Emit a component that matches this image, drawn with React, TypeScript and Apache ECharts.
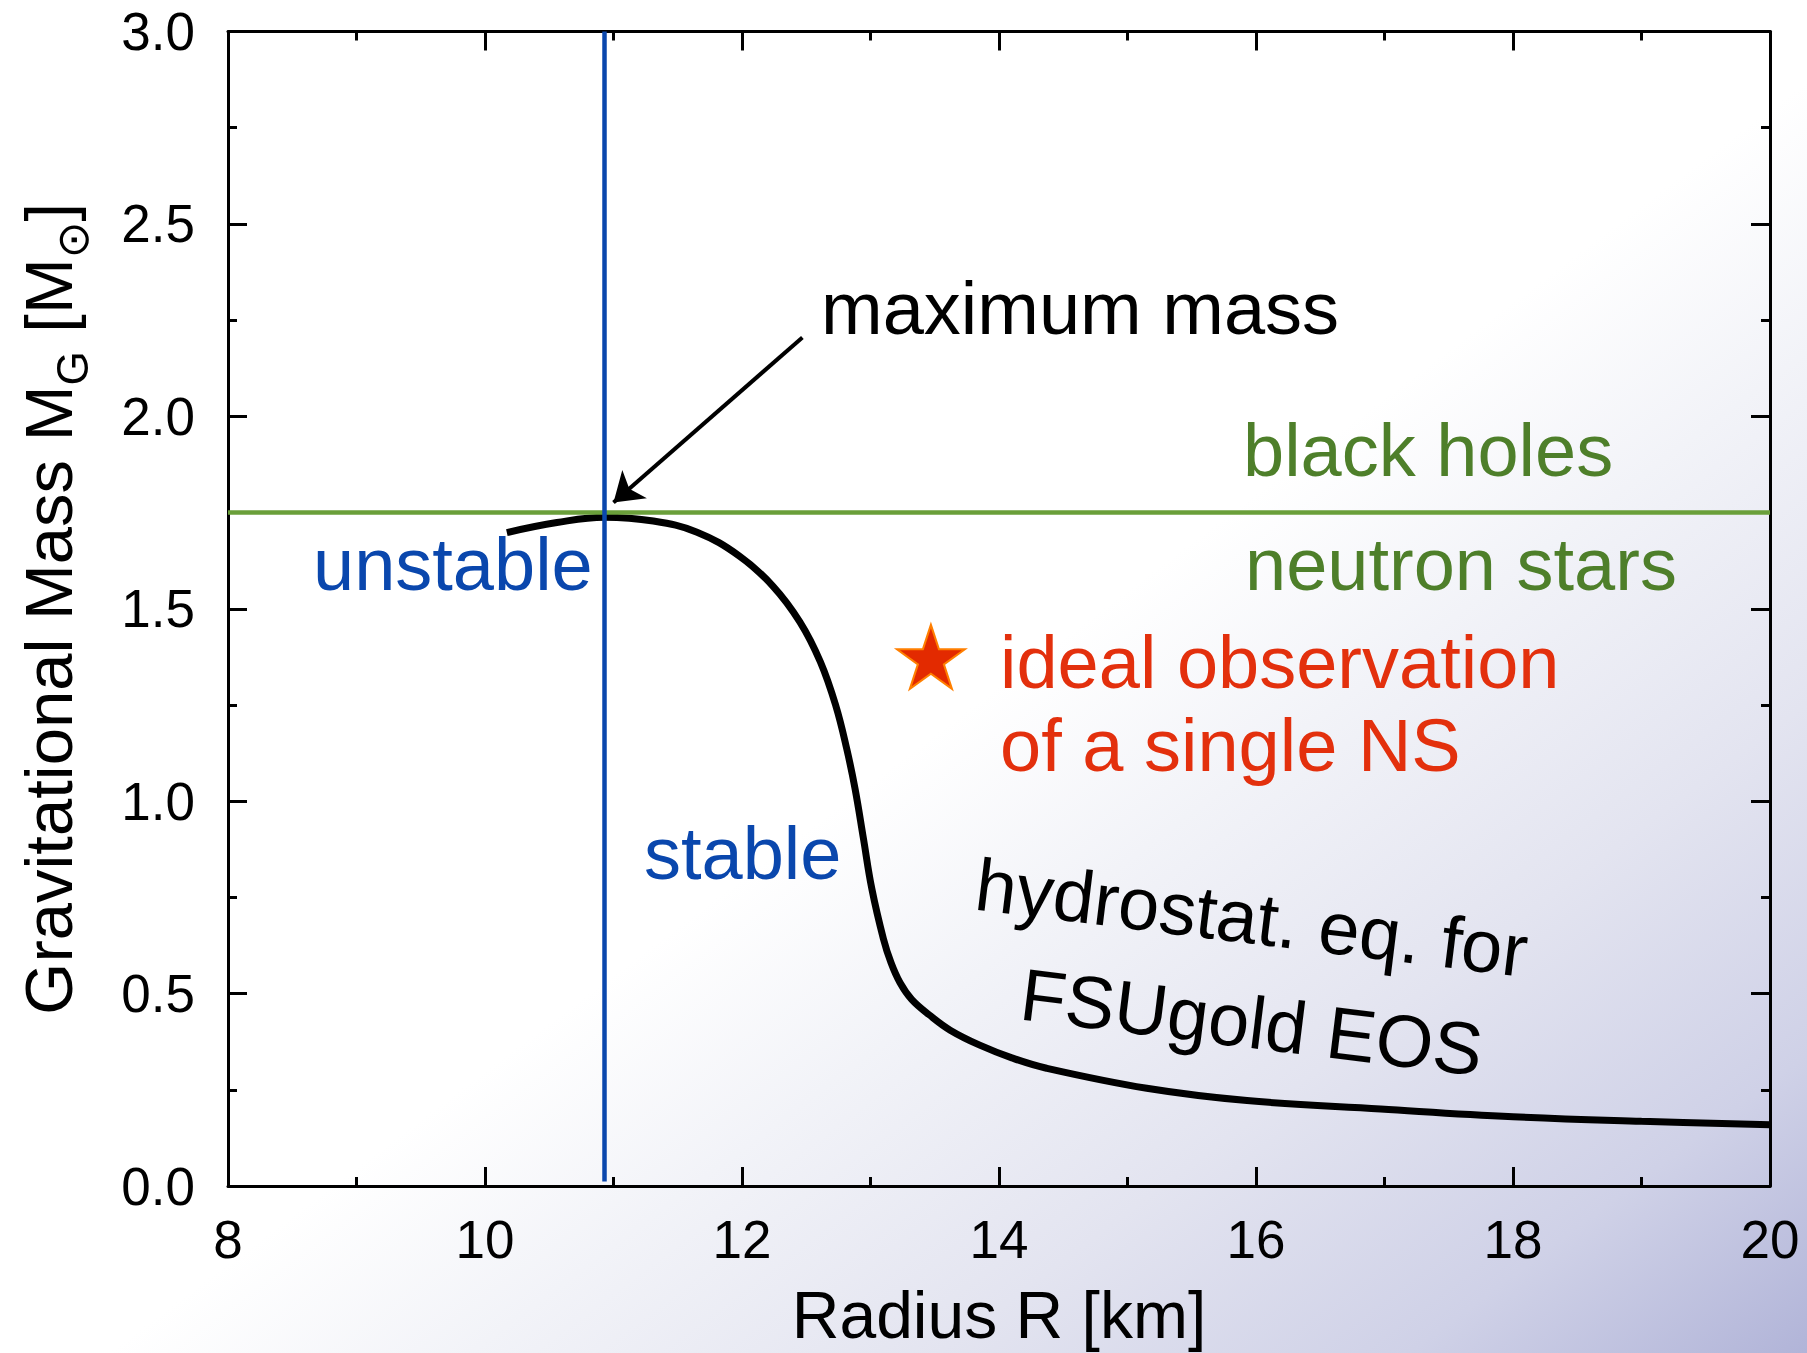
import React, { useEffect, useRef } from "react";
import * as echarts from "echarts";

// Mass–radius relation of a neutron star (FSUgold equation of state)
const radiusKm = [10.17, 10.56, 10.93, 11.31, 11.65, 11.98, 12.24, 12.45, 12.61, 12.73, 12.815, 12.88, 12.945, 13.01, 13.1, 13.16, 13.23, 13.32, 13.46, 13.62, 13.85, 14.1, 14.37, 15.15, 15.93, 16.97, 18.0, 19.0, 20.0];
const massSolar = [1.698, 1.724, 1.738, 1.728, 1.699, 1.637, 1.559, 1.466, 1.362, 1.248, 1.136, 1.032, 0.903, 0.773, 0.643, 0.58, 0.528, 0.485, 0.444, 0.405, 0.366, 0.333, 0.306, 0.254, 0.222, 0.2, 0.18, 0.168, 0.159];

// Reference lines
const maxMassRadius = 10.93; // radius at the maximum mass
const maxMassLevel = 1.75; // black hole / neutron star divide

// Hypothetical single measurement
const idealObservation = [13.47, 1.375];

// Annotation arrow: from the label down to the maximum mass point
const arrowFrom = [12.47, 2.205];
const arrowTo = [11.0, 1.776];

// Axis ranges and tick steps
const xRange = [8, 20];
const xStep = 2;
const yRange = [0, 3];
const yStep = 0.5;

const FONT = "'Liberation Sans', Arial, Helvetica, sans-serif";
const STAR =
  "path://M50 0 L61.23 34.55 L97.55 34.55 L68.17 55.9 L79.39 90.45 L50 69.1 L20.61 90.45 L31.83 55.9 L2.45 34.55 L38.77 34.55 Z";

const GREEN_LINE = "#6a9f3a";
const GREEN_TEXT = "#4e7f2a";
const BLUE = "#0a47ad";
const RED = "#e3300d";

const axisLine = { show: true, onZero: false, lineStyle: { color: "#000", width: 3 } };
const axisTick = { show: true, inside: true, length: 19, lineStyle: { color: "#000", width: 3 } };
const minorTick = { show: true, splitNumber: 2, length: 9, lineStyle: { color: "#000", width: 3 } };

function buildOption() {
  const curve = radiusKm.map((r, i) => [r, massSolar[i]]);
  const annotation = (text: string, x: number, y: number, color: string, rotation = 0) => ({
    type: "text",
    x,
    y,
    rotation,
    z: 50,
    silent: true,
    style: {
      text,
      fill: color,
      fontSize: 74,
      fontFamily: FONT,
      align: "left",
      verticalAlign: "middle",
    },
  });
  const tilt = (-7 * Math.PI) / 180;

  return {
    animation: false,
    grid: { left: 228, right: 37, top: 31.5, bottom: 157, containLabel: false },
    xAxis: [
      {
        type: "value",
        position: "bottom",
        min: xRange[0],
        max: xRange[1],
        interval: xStep,
        axisLine,
        axisTick,
        minorTick,
        splitLine: { show: false },
        axisLabel: { fontSize: 53, color: "#000", fontFamily: FONT, margin: 27 },
        name: "Radius R [km]",
        nameLocation: "middle",
        nameGap: 96,
        nameTextStyle: { fontSize: 66, color: "#000", fontFamily: FONT },
      },
      {
        type: "value",
        position: "top",
        min: xRange[0],
        max: xRange[1],
        interval: xStep,
        axisLine,
        axisTick,
        minorTick,
        splitLine: { show: false },
        axisLabel: { show: false },
      },
    ],
    yAxis: [
      {
        type: "value",
        position: "left",
        min: yRange[0],
        max: yRange[1],
        interval: yStep,
        axisLine,
        axisTick,
        minorTick,
        splitLine: { show: false },
        axisLabel: {
          fontSize: 53,
          color: "#000",
          fontFamily: FONT,
          margin: 33,
          formatter: (v: number) => v.toFixed(1),
        },
        name: "{n|Gravitational Mass M}{s|G}{n| [M}{o|⊙}{n|]}",
        nameLocation: "middle",
        nameRotate: 90,
        nameGap: 134,
        nameTextStyle: {
          fontSize: 67,
          color: "#000",
          fontFamily: FONT,
          rich: {
            n: { fontSize: 67, color: "#000", fontFamily: FONT },
            s: { fontSize: 44, color: "#000", fontFamily: FONT, padding: [48, 0, 0, 0] },
            o: { fontSize: 44, color: "#000", fontFamily: "'DejaVu Sans'", padding: [48, 0, 0, 0] },
          },
        },
      },
      {
        type: "value",
        position: "right",
        min: yRange[0],
        max: yRange[1],
        interval: yStep,
        axisLine,
        axisTick,
        minorTick,
        splitLine: { show: false },
        axisLabel: { show: false },
      },
    ],
    graphic: [
      {
        type: "rect",
        left: 0,
        top: 0,
        z: -100,
        silent: true,
        shape: { width: 1807, height: 1353 },
        style: {
          fill: new echarts.graphic.LinearGradient(0, 0, 1, 1, [
            { offset: 0, color: "#ffffff" },
            { offset: 0.53, color: "#ffffff" },
            { offset: 0.63, color: "#f2f3f8" },
            { offset: 0.76, color: "#e3e4f0" },
            { offset: 0.89, color: "#cfd1e7" },
            { offset: 1, color: "#b1b4d8" },
          ]),
        },
      },
      annotation("maximum mass", 821, 308, "#000"),
      annotation("black holes", 1243, 450, GREEN_TEXT),
      annotation("neutron stars", 1245, 564, GREEN_TEXT),
      annotation("unstable", 313, 564, BLUE),
      annotation("stable", 644, 853, BLUE),
      annotation("ideal observation", 1000, 662, RED),
      annotation("of a single NS", 1000, 745, RED),
      annotation("hydrostat. eq. for", 976, 884, "#000", tilt),
      annotation("FSUgold EOS", 1021, 994, "#000", tilt),
    ],
    series: [
      {
        name: "FSUgold",
        type: "line",
        data: curve,
        smooth: 0.4,
        showSymbol: false,
        symbol: "none",
        z: 2,
        lineStyle: { color: "#000", width: 7 },
      },
      {
        name: "maximum mass level",
        type: "line",
        data: [
          [xRange[0], maxMassLevel],
          [xRange[1], maxMassLevel],
        ],
        symbol: "none",
        z: 3,
        lineStyle: { color: GREEN_LINE, width: 4.5 },
      },
      {
        name: "stability limit",
        type: "line",
        data: [
          [maxMassRadius, 0.012],
          [maxMassRadius, yRange[1]],
        ],
        symbol: "none",
        z: 4,
        lineStyle: { color: BLUE, width: 4.5 },
      },
      {
        name: "pointer",
        type: "lines",
        coordinateSystem: "cartesian2d",
        z: 5,
        symbol: ["none", "arrow"],
        symbolSize: [20, 28],
        lineStyle: { color: "#000", width: 4, opacity: 1 },
        data: [{ coords: [arrowFrom, arrowTo] }],
      },
      {
        name: "ideal observation",
        type: "scatter",
        data: [idealObservation],
        symbol: STAR,
        symbolSize: [68, 64],
        z: 6,
        itemStyle: { color: "#e32a00", borderColor: "#ff7f00", borderWidth: 2, opacity: 1 },
      },
    ],
  };
}

export default function App() {
  const ref = useRef<HTMLDivElement>(null);
  useEffect(() => {
    if (!ref.current) return;
    const chart = echarts.init(ref.current, null, { renderer: "svg" });
    chart.setOption(buildOption() as any);
    return () => chart.dispose();
  }, []);
  return (
    <div
      ref={ref}
      style={{ position: "fixed", left: 0, top: 0, width: 1807, height: 1353 }}
    />
  );
}
